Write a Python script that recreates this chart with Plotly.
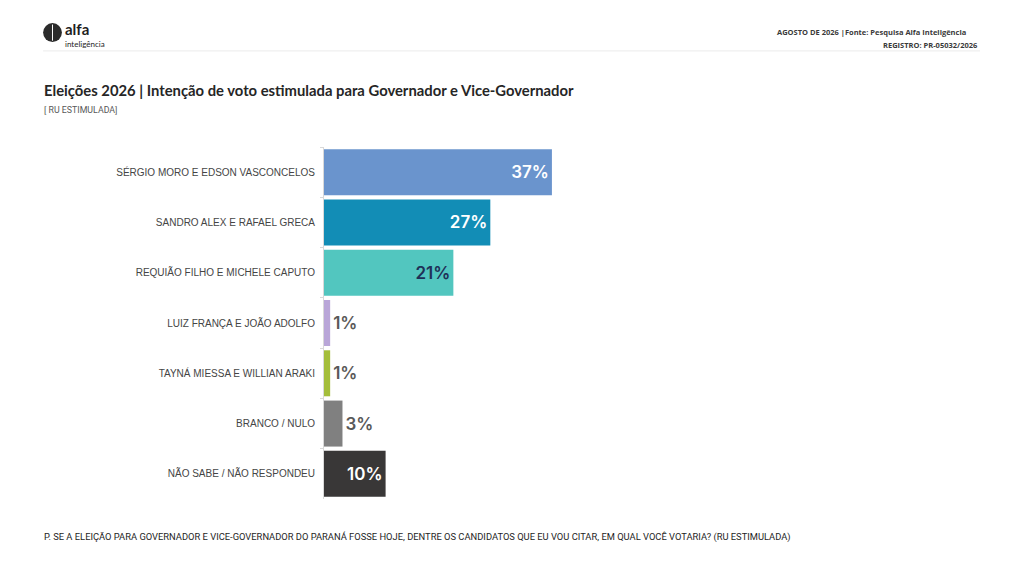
import plotly.graph_objects as go

candidatos = [
    "SÉRGIO MORO E EDSON VASCONCELOS",
    "SANDRO ALEX E RAFAEL GRECA",
    "REQUIÃO FILHO E MICHELE CAPUTO",
    "LUIZ FRANÇA E JOÃO ADOLFO",
    "TAYNÁ MIESSA E WILLIAN ARAKI",
    "BRANCO / NULO",
    "NÃO SABE / NÃO RESPONDEU",
]
votos = [37, 27, 21, 1, 1, 3, 10]
rotulos = ["37%", "27%", "21%", "1%", "1%", "3%", "10%"]

cores = ["#6A94CD", "#128DB6", "#52C6BF", "#B9A6D8", "#A4BE3B", "#808080", "#393737"]
cor_rotulo = ["#FFFFFF", "#FFFFFF", "#1F3057", "#595959", "#595959", "#595959", "#FFFFFF"]
pos_rotulo = ["inside", "inside", "inside", "outside", "outside", "outside", "inside"]

# a página tem margem de 8px; compensado nas margens
fig = go.Figure(go.Bar(
    x=votos, y=candidatos, orientation="h",
    marker=dict(color=cores, line=dict(width=0)),
    text=rotulos, textposition=pos_rotulo, insidetextanchor="end",
    textfont=dict(family="Inter", size=17, color=cor_rotulo, weight=600),
    cliponaxis=False,
))

fig.update_layout(
    width=1024, height=576,
    paper_bgcolor="white", plot_bgcolor="white",
    margin=dict(l=316, r=400, t=139, b=85),
    bargap=0.085,
    showlegend=False,
    xaxis=dict(range=[0, 50], visible=False, fixedrange=True),
    yaxis=dict(
        autorange="reversed", automargin=False,
        showline=True, linecolor="#D9D9D9", linewidth=1,
        ticks="outside", tickson="boundaries", ticklen=3, tickcolor="#D9D9D9",
        ticklabelstandoff=6,
        tickfont=dict(family="Liberation Sans", size=10, color="#454545"),
    ),
)

# cabeçalho
fig.add_shape(type="line", xref="paper", yref="paper", x0=-0.912, x1=2.13, y0=1.273, y1=1.273,
              line=dict(color="#EBEBEB", width=1))
fig.add_shape(type="circle", xref="paper", yref="paper",
              x0=-0.912, x1=-0.851, y0=1.298, y1=1.352,
              fillcolor="#2B2B2B", line=dict(width=0))
fig.add_shape(type="line", xref="paper", yref="paper",
              x0=-0.8815, x1=-0.8815, y0=1.302, y1=1.348,
              line=dict(color="#FFFFFF", width=1))
fig.add_annotation(text="alfa", xref="paper", yref="paper", x=-0.848, y=1.3366,
                   xanchor="left", yanchor="middle", showarrow=False,
                   font=dict(family="Lato", size=15, color="#1E1E1E", weight=700))
fig.add_annotation(text="inteligência", xref="paper", yref="paper", x=-0.848, y=1.294,
                   xanchor="left", yanchor="middle", showarrow=False,
                   font=dict(family="Lato", size=8, color="#1E1E1E"))
fig.add_annotation(text="AGOSTO DE 2026 |Fonte: Pesquisa Alfa Inteligência",
                   xref="paper", yref="paper", x=2.09, y=1.327, xanchor="right", yanchor="middle",
                   showarrow=False, font=dict(family="Open Sans", size=7.5, color="#3A3A3A", weight=700))
fig.add_annotation(text="REGISTRO: PR-05032/2026",
                   xref="paper", yref="paper", x=2.13, y=1.290, xanchor="right", yanchor="middle",
                   showarrow=False, font=dict(family="Open Sans", size=7.5, color="#3A3A3A", weight=700))

# título
fig.add_annotation(text="Eleições 2026 | Intenção de voto estimulada para Governador e Vice-Governador",
                   xref="paper", yref="paper", x=-0.914, y=1.162, xanchor="left", yanchor="middle",
                   showarrow=False, font=dict(family="Lato", size=14.8, color="#262626", weight=700))
fig.add_annotation(text="[ RU ESTIMULADA]",
                   xref="paper", yref="paper", x=-0.914, y=1.105, xanchor="left", yanchor="middle",
                   showarrow=False, font=dict(family="Roboto", size=8.8, color="#595959"))

# rodapé
fig.add_annotation(text="P. SE A ELEIÇÃO PARA GOVERNADOR E VICE-GOVERNADOR DO PARANÁ FOSSE HOJE, DENTRE OS CANDIDATOS QUE EU VOU CITAR, EM QUAL VOCÊ VOTARIA? (RU ESTIMULADA)",
                   xref="paper", yref="paper", x=-0.914, y=-0.108, xanchor="left", yanchor="middle",
                   showarrow=False, font=dict(family="Roboto", size=9.35, color="#1E1E1E"))

fig.write_html("out.html")
